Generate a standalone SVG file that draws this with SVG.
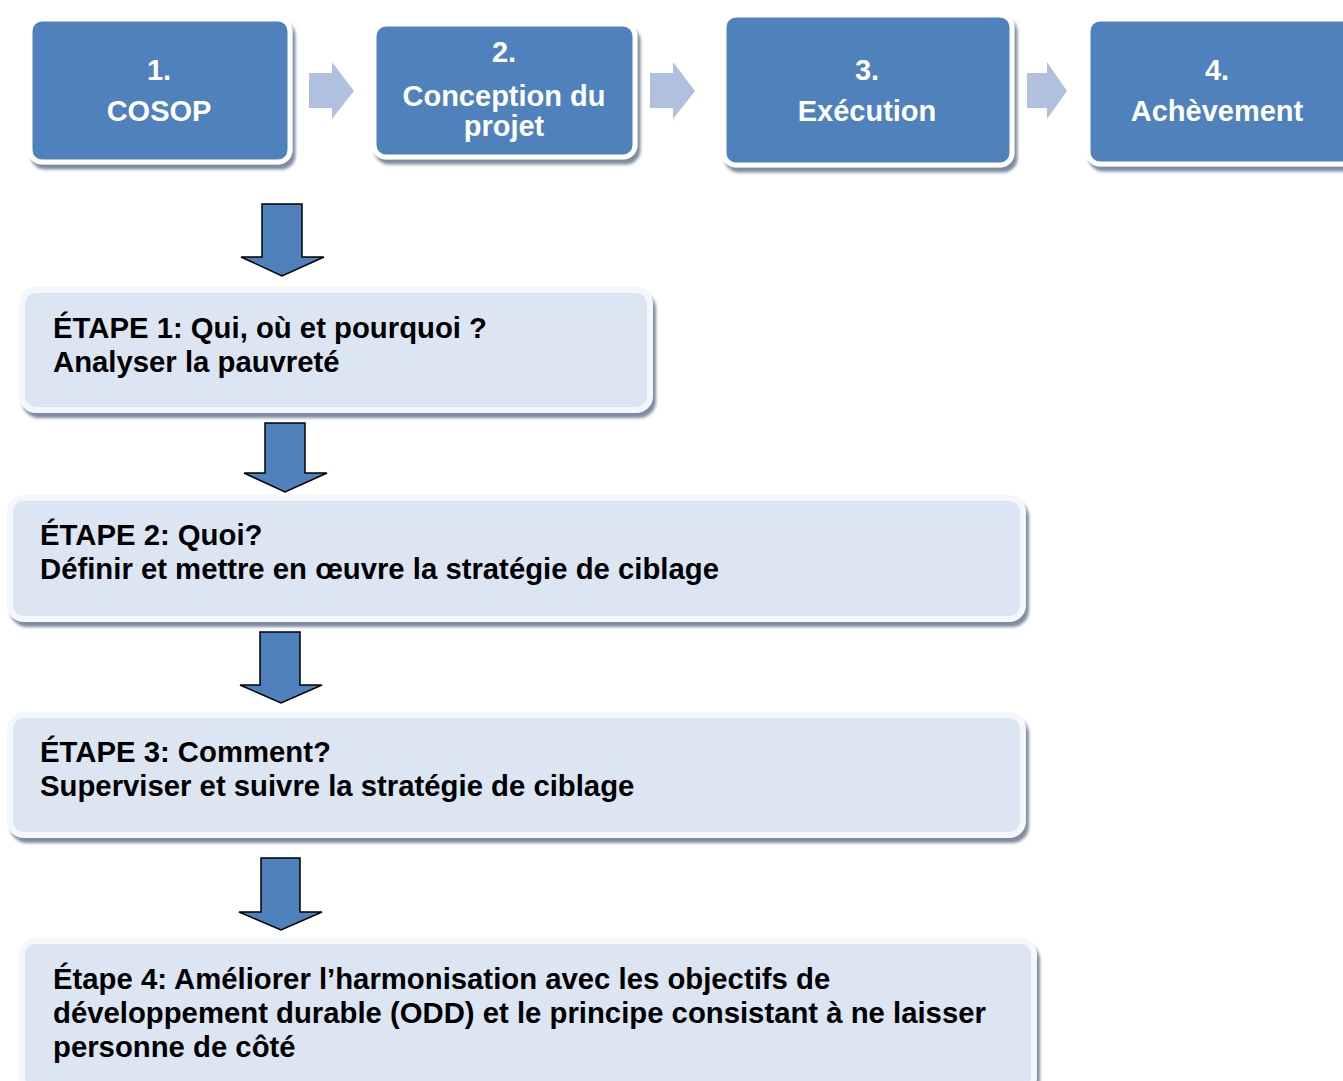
<svg xmlns="http://www.w3.org/2000/svg" width="1343" height="1081" viewBox="0 0 1343 1081">
<style>
.top{fill:#4f81bd;stroke:#ffffff;stroke-width:5}
.step{fill:#dce6f2;stroke:#f4f7fb;stroke-width:6}
.harr{fill:#afc1de}
.varr{fill:#4f81bd;stroke:#000000;stroke-width:1.5}
.tt{font-family:"Liberation Sans",Arial,sans-serif;font-weight:bold;font-size:29px;fill:#ffffff;text-anchor:middle}
.st{font-family:"Liberation Sans",Arial,sans-serif;font-weight:bold;font-size:29.3px;fill:#000000}
</style>
<defs>
<filter id="sh" x="-10%" y="-10%" width="125%" height="130%">
<feDropShadow dx="3" dy="5" stdDeviation="1.8" flood-color="#6f7f96" flood-opacity="0.9"/>
</filter>
</defs>
<rect width="1343" height="1081" fill="#ffffff"/>
<g id="connectors">
<path class="harr" d="M309,73 H332 V62 L354,91 L332,119 V108 H309 Z"/>
<path class="harr" d="M650,73 H673 V62 L695,91 L673,119 V108 H650 Z"/>
<path class="harr" d="M1027,73 H1047 V62 L1067,91 L1047,119 V108 H1027 Z"/>
<path class="varr" d="M262,204 H302 V257 H324 L282,276 L241,257 H262 Z"/>
<path class="varr" d="M265,423 H305 V473 H327 L285,492 L244,473 H265 Z"/>
<path class="varr" d="M260,632 H300 V685 H322 L281,703 L240,685 H260 Z"/>
<path class="varr" d="M261,858 H300 V912 H322 L281,930 L239,912 H261 Z"/>
</g>
<g id="node-cosop">
<rect class="top" x="30" y="19" width="260" height="143" rx="12" filter="url(#sh)"/>
<text class="tt" x="159" y="80">1.</text>
<text class="tt" x="159" y="121">COSOP</text>
</g>
<g id="node-conception">
<rect class="top" x="374" y="24" width="261" height="133" rx="12" filter="url(#sh)"/>
<text class="tt" x="504" y="62">2.</text>
<text class="tt" x="504" y="106">Conception du</text>
<text class="tt" x="504" y="136">projet</text>
</g>
<g id="node-execution">
<rect class="top" x="724" y="15" width="288" height="150" rx="12" filter="url(#sh)"/>
<text class="tt" x="867" y="80">3.</text>
<text class="tt" x="867" y="121">Exécution</text>
</g>
<g id="node-achevement">
<rect class="top" x="1088" y="19" width="270" height="145" rx="12" filter="url(#sh)"/>
<text class="tt" x="1217" y="80">4.</text>
<text class="tt" x="1217" y="121">Achèvement</text>
</g>
<g id="node-etape1">
<rect class="step" x="22" y="290" width="628" height="120" rx="14" filter="url(#sh)"/>
<text class="st" x="53" y="338">ÉTAPE 1: Qui, où et pourquoi ?</text>
<text class="st" x="53" y="372">Analyser la pauvreté</text>
</g>
<g id="node-etape2">
<rect class="step" x="10" y="498" width="1013" height="121" rx="14" filter="url(#sh)"/>
<text class="st" x="40" y="545">ÉTAPE 2: Quoi?</text>
<text class="st" x="40" y="579">Définir et mettre en œuvre la stratégie de ciblage</text>
</g>
<g id="node-etape3">
<rect class="step" x="10" y="715" width="1013" height="120" rx="14" filter="url(#sh)"/>
<text class="st" x="40" y="762">ÉTAPE 3: Comment?</text>
<text class="st" x="40" y="796">Superviser et suivre la stratégie de ciblage</text>
</g>
<g id="node-etape4">
<rect class="step" x="22" y="941" width="1012" height="150" rx="14" filter="url(#sh)"/>
<text class="st" x="53" y="989">Étape 4: Améliorer l’harmonisation avec les objectifs de</text>
<text class="st" x="53" y="1023">développement durable (ODD) et le principe consistant à ne laisser</text>
<text class="st" x="53" y="1057">personne de côté</text>
</g>
</svg>
